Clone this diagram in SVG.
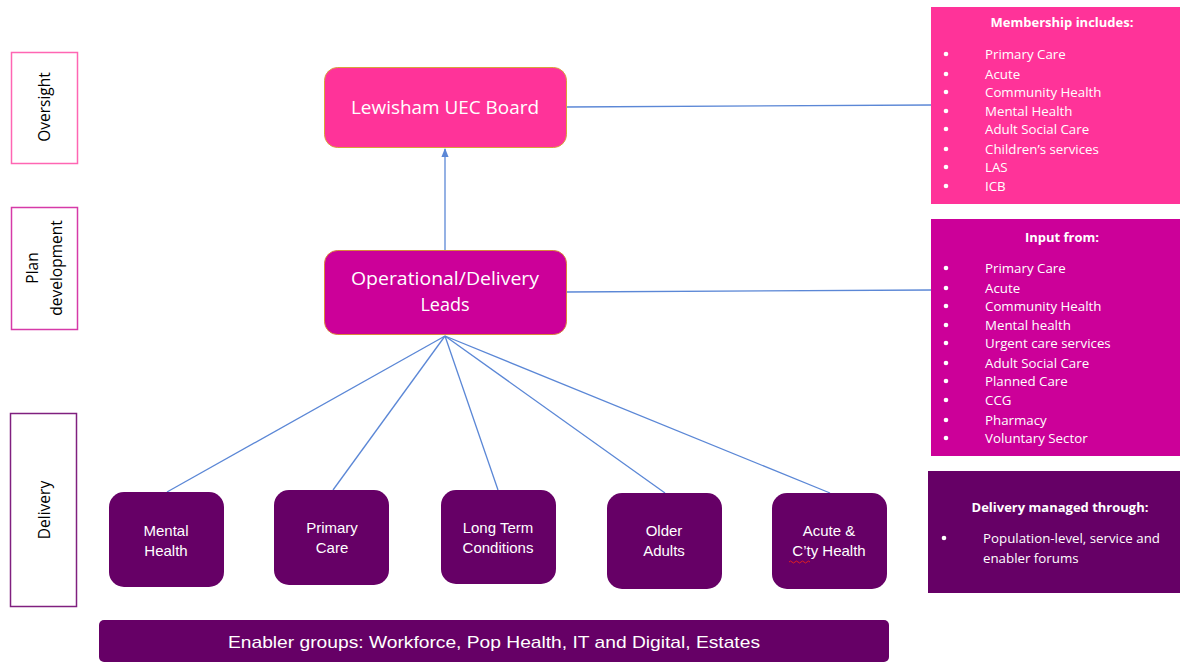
<svg xmlns="http://www.w3.org/2000/svg" width="1180" height="662" viewBox="0 0 1180 662">
  <defs>
    <style>
      .cal { font-family: "Open Sans", "Noto Sans", sans-serif; }
      .ari { font-family: "Liberation Sans", Arial, sans-serif; }
      .wht { fill: #ffffff; }
      .side { fill: #ffffff; stroke-width: 1.5; }
      .sideTxt { font-family: "Open Sans", "Noto Sans", sans-serif; font-size: 15.5px; fill: #000000; text-anchor: middle; }
      .conn { stroke: #5b87d6; stroke-width: 1.3; fill: none; }
      .leaf { fill: #660066; }
      .leafTxt { font-family: "Liberation Sans", Arial, sans-serif; font-size: 15px; fill: #ffffff; text-anchor: middle; }
      .item { font-family: "Open Sans", "Noto Sans", sans-serif; font-size: 13.3px; fill: #ffffff; }
      .head { font-family: "Open Sans", "Noto Sans", sans-serif; font-size: 13px; font-weight: bold; fill: #ffffff; text-anchor: middle; }
    </style>
    <marker id="arrow" viewBox="0 0 10 10" refX="9" refY="5" markerWidth="7" markerHeight="7" orient="auto-start-reverse">
      <path d="M0,1 L10,5 L0,9 z" fill="#5b87d6"/>
    </marker>
  </defs>

  <rect x="0" y="0" width="1180" height="662" fill="#ffffff"/>

  <!-- level labels -->
  <g id="label-oversight">
    <rect class="side" x="11.5" y="52.5" width="66" height="111" stroke="#ff66b3"/>
    <text class="sideTxt" transform="translate(50,107) rotate(-90)">Oversight</text>
  </g>
  <g id="label-plan">
    <rect class="side" x="11.5" y="207.5" width="66" height="122" stroke="#d63aa8"/>
    <text class="sideTxt" transform="translate(38,268) rotate(-90)">Plan</text>
    <text class="sideTxt" transform="translate(62,268) rotate(-90)">development</text>
  </g>
  <g id="label-delivery">
    <rect class="side" x="10.5" y="413.5" width="66" height="193" stroke="#80207f"/>
    <text class="sideTxt" transform="translate(50,510) rotate(-90)">Delivery</text>
  </g>

  <!-- connectors -->
  <g id="connectors">
    <line class="conn" x1="445" y1="250" x2="445" y2="149" marker-end="url(#arrow)"/>
    <line class="conn" x1="566" y1="107" x2="932" y2="105"/>
    <line class="conn" x1="566" y1="292" x2="932" y2="290"/>
    <line class="conn" x1="445" y1="336" x2="167" y2="492"/>
    <line class="conn" x1="445" y1="336" x2="333" y2="490"/>
    <line class="conn" x1="445" y1="336" x2="498" y2="490"/>
    <line class="conn" x1="445" y1="336" x2="665" y2="493"/>
    <line class="conn" x1="445" y1="336" x2="830" y2="493"/>
  </g>

  <!-- governance boxes -->
  <g id="uec-board">
    <rect x="324.5" y="67.5" width="242" height="80" rx="13" fill="#ff3399" stroke="#d9a13a" stroke-width="1"/>
    <text class="cal wht" x="445" y="114" font-size="18" text-anchor="middle" textLength="188" lengthAdjust="spacingAndGlyphs">Lewisham UEC Board</text>
  </g>
  <g id="delivery-leads">
    <rect x="324.5" y="250.5" width="242" height="84" rx="13" fill="#cc0099" stroke="#d9853a" stroke-width="1"/>
    <text class="cal wht" x="445" y="285" font-size="18" text-anchor="middle" textLength="188" lengthAdjust="spacingAndGlyphs">Operational/Delivery</text>
    <text class="cal wht" x="445" y="311" font-size="18" text-anchor="middle">Leads</text>
  </g>

  <!-- membership panel -->
  <g id="membership">
    <rect x="931" y="7" width="249" height="197" fill="#ff3399"/>
    <text class="head" x="1062" y="27">Membership includes:</text>
    <g fill="#ffffff">
      <circle cx="946" cy="54" r="2.3"/><circle cx="946" cy="74" r="2.3"/><circle cx="946" cy="92" r="2.3"/>
      <circle cx="946" cy="111" r="2.3"/><circle cx="946" cy="129" r="2.3"/><circle cx="946" cy="149" r="2.3"/>
      <circle cx="946" cy="167" r="2.3"/><circle cx="946" cy="186" r="2.3"/>
    </g>
    <text class="item" x="985" y="58.5">Primary Care</text>
    <text class="item" x="985" y="78.5">Acute</text>
    <text class="item" x="985" y="96.5">Community Health</text>
    <text class="item" x="985" y="115.5">Mental Health</text>
    <text class="item" x="985" y="133.5">Adult Social Care</text>
    <text class="item" x="985" y="153.5">Children’s services</text>
    <text class="item" x="985" y="171.5">LAS</text>
    <text class="item" x="985" y="190.5">ICB</text>
  </g>

  <!-- input panel -->
  <g id="input-from">
    <rect x="931" y="219" width="249" height="237" fill="#cc0099"/>
    <text class="head" x="1062" y="242">Input from:</text>
    <g fill="#ffffff">
      <circle cx="946" cy="268" r="2.3"/><circle cx="946" cy="288" r="2.3"/><circle cx="946" cy="306" r="2.3"/>
      <circle cx="946" cy="325" r="2.3"/><circle cx="946" cy="343" r="2.3"/><circle cx="946" cy="363" r="2.3"/>
      <circle cx="946" cy="381" r="2.3"/><circle cx="946" cy="400" r="2.3"/><circle cx="946" cy="420" r="2.3"/>
      <circle cx="946" cy="438" r="2.3"/>
    </g>
    <text class="item" x="985" y="272.5">Primary Care</text>
    <text class="item" x="985" y="292.5">Acute</text>
    <text class="item" x="985" y="310.5">Community Health</text>
    <text class="item" x="985" y="329.5">Mental health</text>
    <text class="item" x="985" y="347.5">Urgent care services</text>
    <text class="item" x="985" y="367.5">Adult Social Care</text>
    <text class="item" x="985" y="385.5">Planned Care</text>
    <text class="item" x="985" y="404.5">CCG</text>
    <text class="item" x="985" y="424.5">Pharmacy</text>
    <text class="item" x="985" y="442.5">Voluntary Sector</text>
  </g>

  <!-- delivery panel -->
  <g id="delivery-managed">
    <rect x="928" y="471" width="252" height="122" fill="#660066"/>
    <text class="head" x="1060" y="512">Delivery managed through:</text>
    <circle cx="944" cy="538" r="2.3" fill="#ffffff"/>
    <text class="item" x="983" y="543">Population-level, service and</text>
    <text class="item" x="983" y="563">enabler forums</text>
  </g>

  <!-- delivery workstreams -->
  <g id="mental-health">
    <rect class="leaf" x="109" y="492" width="115" height="95" rx="15"/>
    <text class="leafTxt" x="166" y="536">Mental</text>
    <text class="leafTxt" x="166" y="556">Health</text>
  </g>
  <g id="primary-care">
    <rect class="leaf" x="274" y="490" width="115" height="95" rx="15"/>
    <text class="leafTxt" x="332" y="533">Primary</text>
    <text class="leafTxt" x="332" y="553">Care</text>
  </g>
  <g id="long-term-conditions">
    <rect class="leaf" x="441" y="490" width="115" height="94" rx="15"/>
    <text class="leafTxt" x="498" y="533">Long Term</text>
    <text class="leafTxt" x="498" y="553">Conditions</text>
  </g>
  <g id="older-adults">
    <rect class="leaf" x="607" y="493" width="115" height="96" rx="15"/>
    <text class="leafTxt" x="664" y="536">Older</text>
    <text class="leafTxt" x="664" y="556">Adults</text>
  </g>
  <g id="acute-community">
    <rect class="leaf" x="772" y="493" width="115" height="96" rx="15"/>
    <text class="leafTxt" x="829" y="536">Acute &amp;</text>
    <text class="leafTxt" x="829" y="556">C’ty Health</text>
    <path d="M789,562 q1.5,-2 3,0 t3,0 t3,0 t3,0 t3,0 t3,0 t3,0" fill="none" stroke="#e02020" stroke-width="1"/>
  </g>

  <!-- enabler bar -->
  <g id="enablers">
    <rect x="99" y="620" width="790" height="42" rx="5" fill="#660066"/>
    <text class="ari wht" x="494" y="648" font-size="17" text-anchor="middle" textLength="532" lengthAdjust="spacingAndGlyphs">Enabler groups:  Workforce, Pop Health, IT and Digital, Estates</text>
  </g>
</svg>
